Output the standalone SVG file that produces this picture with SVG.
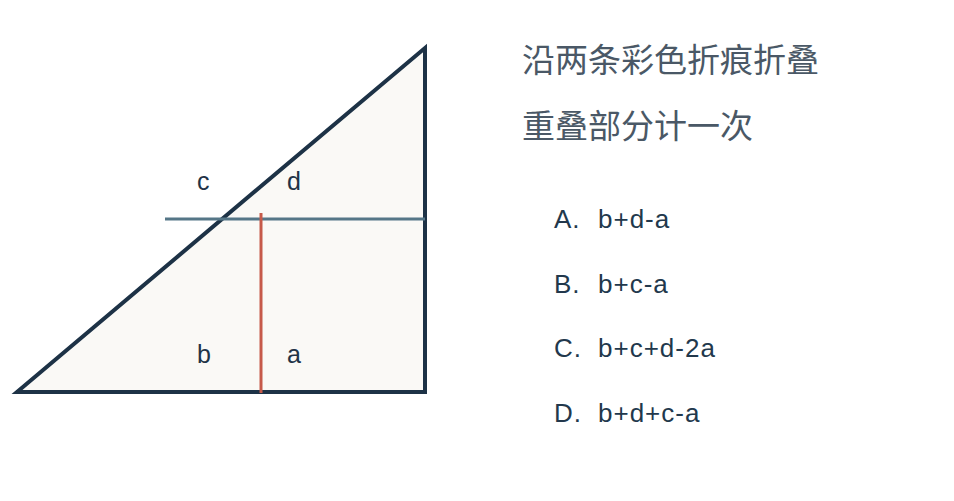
<svg xmlns="http://www.w3.org/2000/svg" width="954" height="501" viewBox="0 0 954 501">
<style>
.lbl{font-family:"Liberation Sans",Arial,sans-serif;font-size:25px;fill:#1f3347}
.cn{font-family:"Noto Sans CJK SC","Noto Sans",sans-serif;font-size:33px;fill:#4a5866}
.opt{font-family:"Liberation Sans",Arial,sans-serif;font-size:26px;fill:#22384c;letter-spacing:1px}
</style>
<rect width="954" height="501" fill="#ffffff"/>
<g id="triangle">
<polygon points="17,392 425,48 425,392" fill="#faf9f6" stroke="#1d3246" stroke-width="4" stroke-linejoin="miter"/>
</g>
<g id="connectors">
<line x1="165" y1="219" x2="425" y2="219" stroke="#557687" stroke-width="3"/>
<line x1="261" y1="213" x2="261" y2="393" stroke="#c65a4a" stroke-width="3"/>
</g>
<g id="labels">
<text class="lbl" x="197" y="190">c</text>
<text class="lbl" x="287" y="190">d</text>
<text class="lbl" x="197" y="363">b</text>
<text class="lbl" x="287" y="363">a</text>
</g>
<g id="question">
<text class="cn" x="522" y="72">沿两条彩色折痕折叠</text>
<text class="cn" x="522" y="138">重叠部分计一次</text>
</g>
<g id="options">
<text class="opt" y="228"><tspan x="554">A.</tspan><tspan x="598">b+d-a</tspan></text>
<text class="opt" y="293"><tspan x="554">B.</tspan><tspan x="598">b+c-a</tspan></text>
<text class="opt" y="357"><tspan x="554">C.</tspan><tspan x="598">b+c+d-2a</tspan></text>
<text class="opt" y="422"><tspan x="554">D.</tspan><tspan x="598">b+d+c-a</tspan></text>
</g>
</svg>
